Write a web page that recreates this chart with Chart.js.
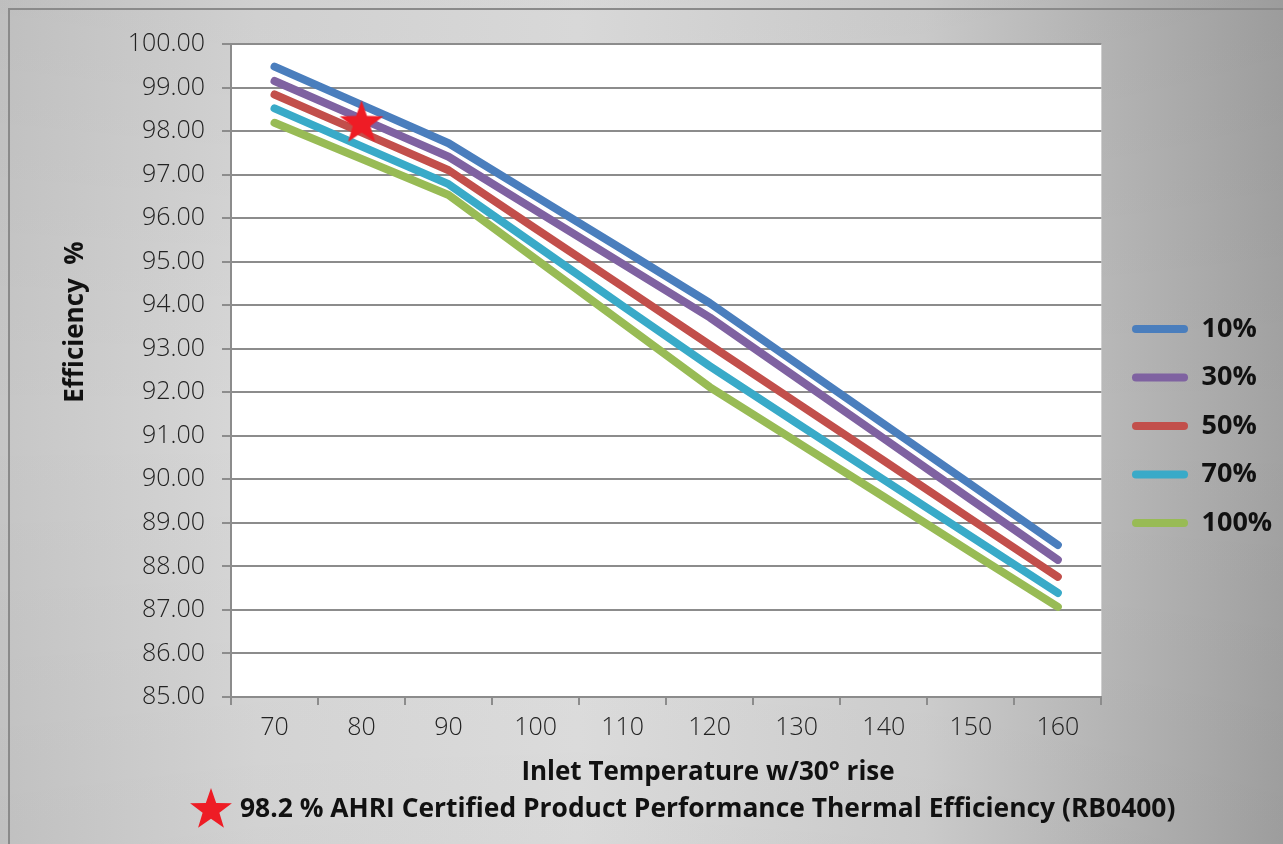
<!DOCTYPE html>
<html>
<head>
<meta charset="utf-8">
<script src="https://cdn.jsdelivr.net/npm/chart.js@4.4.1/dist/chart.umd.min.js"></script>
<style>
  html, body { margin: 0; padding: 0; background: #c8c8c8; }
  #wrap { width: 1283px; height: 844px; }
</style>
</head>
<body>
<div id="wrap"><canvas id="c" width="1283" height="844"></canvas></div>
<script>
// ---- data ----
const categories = [70, 80, 90, 100, 110, 120, 130, 140, 150, 160];
const load10  = [99.48, 98.60, 97.72, 96.50, 95.28, 94.05, 92.66, 91.27, 89.88, 88.49];
const load30  = [99.15, 98.28, 97.41, 96.18, 94.95, 93.72, 92.33, 90.94, 89.54, 88.15];
const load50  = [98.84, 97.97, 97.10, 95.76, 94.43, 93.09, 91.76, 90.43, 89.09, 87.76];
const load70  = [98.52, 97.65, 96.78, 95.38, 93.98, 92.60, 91.29, 89.99, 88.69, 87.39];
const load100 = [98.19, 97.36, 96.53, 95.06, 93.59, 92.12, 90.86, 89.60, 88.33, 87.07];
const certifiedPoint = [null, 98.2, null, null, null, null, null, null, null, null];
const seriesLabels = ['10%', '30%', '50%', '70%', '100%'];
const yTitle = 'Efficiency  %';
const xTitle = 'Inlet Temperature w/30\u00B0 rise';
const caption = '98.2 % AHRI Certified Product Performance Thermal Efficiency (RB0400)';

const colors = ['#4a7ebd', '#7f62a1', '#c24f4b', '#39aac8', '#98bb55'];
const starRed = '#ee1c25';

function starPath(ctx, cx, cy, rOut, rIn) {
  ctx.beginPath();
  for (let i = 0; i < 10; i++) {
    const r = i % 2 === 0 ? rOut : rIn;
    const a = -Math.PI / 2 + i * Math.PI / 5;
    const px = cx + r * Math.cos(a), py = cy + r * Math.sin(a);
    if (i === 0) ctx.moveTo(px, py); else ctx.lineTo(px, py);
  }
  ctx.closePath();
}

// star image used as the point style of the certified point
const starCanvas = document.createElement('canvas');
starCanvas.width = 48; starCanvas.height = 48;
{
  const sc = starCanvas.getContext('2d');
  sc.fillStyle = starRed;
  starPath(sc, 24, 25, 23, 9.2);
  sc.fill();
}

const FONT = "'Open Sans', 'Noto Sans', 'DejaVu Sans', sans-serif";

const decor = {
  id: 'decor',
  afterLayout(chart) {
    // nudge the legend to sit where the reference has it
    const lg = chart.legend;
    if (lg) {
      const dx = 1132 - (lg.left + lg.options.labels.padding);
      lg.left += dx; lg.right += dx;
      lg.top += 3; lg.bottom += 3;
    }
  },
  beforeDraw(chart) {
    const ctx = chart.ctx;
    const W = chart.width, H = chart.height;
    ctx.save();
    const g = ctx.createLinearGradient(0, 0, W, 0);
    g.addColorStop(0, '#c6c6c6');
    g.addColorStop(0.2, '#d8d8d8');
    g.addColorStop(0.45, '#e0e0e0');
    g.addColorStop(0.72, '#d0d0d0');
    g.addColorStop(1, '#a2a2a2');
    ctx.fillStyle = g;
    ctx.fillRect(0, 0, W, H);
    const g2 = ctx.createLinearGradient(0, 0, 0, H);
    g2.addColorStop(0, 'rgba(0,0,0,0.04)');
    g2.addColorStop(0.5, 'rgba(0,0,0,0)');
    g2.addColorStop(1, 'rgba(0,0,0,0.03)');
    ctx.fillStyle = g2;
    ctx.fillRect(0, 0, W, H);
    // outer frame
    ctx.strokeStyle = '#8a8a8a';
    ctx.lineWidth = 2;
    ctx.strokeRect(9, 9, W + 20, H + 20);
    // plot area
    const a = chart.chartArea;
    ctx.fillStyle = '#ffffff';
    ctx.fillRect(a.left, a.top, a.right - a.left, a.bottom - a.top);
    ctx.restore();
  },
  afterDraw(chart) {
    const ctx = chart.ctx;
    ctx.save();
    ctx.fillStyle = '#111';
    ctx.font = 'bold 26px ' + FONT;
    ctx.textBaseline = 'middle';
    ctx.textAlign = 'center';
    ctx.fillText(xTitle, 708, 773);
    ctx.save();
    ctx.translate(76, 322);
    ctx.rotate(-Math.PI / 2);
    ctx.fillText(yTitle, 0, 0);
    ctx.restore();
    ctx.font = 'bold 26.4px ' + FONT;
    ctx.textAlign = 'left';
    ctx.fillText(caption, 240, 809);
    ctx.fillStyle = starRed;
    starPath(ctx, 211, 810, 22, 8.8);
    ctx.fill();
    ctx.restore();
  }
};

const seriesData = [load10, load30, load50, load70, load100];
const datasets = seriesData.map((d, i) => ({
  label: seriesLabels[i],
  data: d,
  borderColor: colors[i],
  backgroundColor: colors[i],
  borderWidth: 8,
  borderCapStyle: 'round',
  borderJoinStyle: 'round',
  pointRadius: 0,
  pointHoverRadius: 0,
  tension: 0
}));
datasets.push({
  label: 'certified',
  data: certifiedPoint,
  showLine: false,
  pointStyle: starCanvas,
  pointRadius: 24,
  borderColor: starRed,
  backgroundColor: starRed,
  order: -1
});

new Chart(document.getElementById('c'), {
  type: 'line',
  data: { labels: categories, datasets },
  plugins: [decor],
  options: {
    responsive: false,
    devicePixelRatio: 1,
    animation: false,
    events: [],
    layout: { padding: { top: 44, bottom: 42, left: 0, right: 10 } },
    plugins: {
      legend: {
        position: 'right',
        labels: {
          generateLabels(chart) {
            return Chart.defaults.plugins.legend.labels.generateLabels(chart)
              .filter(l => l.text !== 'certified')
              .sort((a, b) => a.datasetIndex - b.datasetIndex)
              .map(l => Object.assign(l, { lineWidth: 0 }));
          },
          boxWidth: 56,
          boxHeight: 8,
          useBorderRadius: true,
          borderRadius: 4,
          padding: 21.5,
          color: '#111',
          font: { family: FONT, size: 27, weight: 'bold' }
        }
      },
      tooltip: { enabled: false }
    },
    scales: {
      x: {
        offset: true,
        grid: { offset: true, drawOnChartArea: false, drawTicks: true, tickLength: 8, color: '#8c8c8c', lineWidth: 2 },
        border: { color: '#8c8c8c', width: 2 },
        ticks: { color: '#222', padding: 8, maxRotation: 0, font: { family: FONT, size: 25, weight: 300 } },
        afterFit(scale) { scale.height = 105; }
      },
      y: {
        min: 85,
        max: 100,
        grid: { color: '#8c8c8c', lineWidth: 2, tickLength: 9 },
        border: { color: '#8c8c8c', width: 2 },
        ticks: {
          stepSize: 1,
          color: '#222',
          padding: 17,
          font: { family: FONT, size: 25, weight: 300 },
          callback: (v) => Number(v).toFixed(2)
        },
        afterFit(scale) { scale.width = 231; }
      }
    }
  }
});
</script>
</body>
</html>
